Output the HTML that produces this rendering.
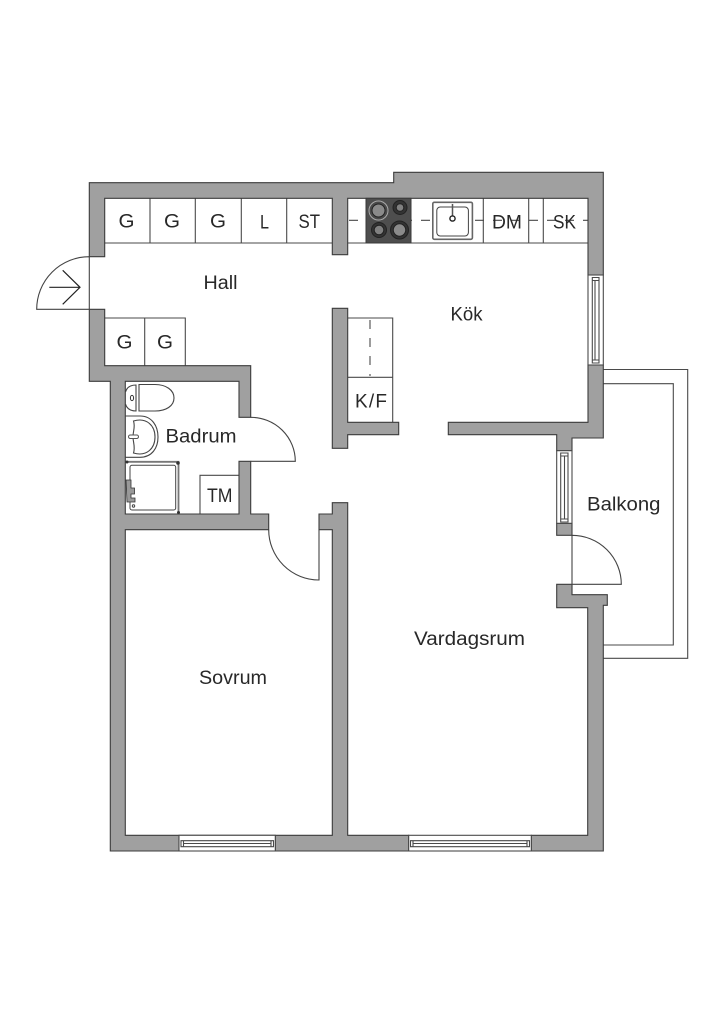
<!DOCTYPE html>
<html><head><meta charset="utf-8"><style>
html,body{margin:0;padding:0;background:#fff}
svg{display:block}
text{font-family:"Liberation Sans",sans-serif;font-size:19px;fill:#282828}
.w{fill:#a0a0a0;stroke:#3c3c3c;stroke-width:1.1}
.l{fill:none;stroke:#4a4a4a;stroke-width:1.1}
.b{fill:#fff;stroke:#4a4a4a;stroke-width:1.1}
.d{fill:none;stroke:#444;stroke-width:1.1}
</style></head><body>
<svg width="724" height="1024" viewBox="0 0 724 1024" xmlns="http://www.w3.org/2000/svg">
<rect width="724" height="1024" fill="#fff"/>
<!-- balcony -->
<path class="l" d="M603.3 369.5H687.7V658.3H603.3M603.3 383.7H673.3V645H603.3"/>
<!-- cabinets -->
<path class="l" d="M104.7 243H332.3M150 198.3V243M195.3 198.3V243M241.3 198.3V243M286.7 198.3V243"/>
<path class="l" d="M347.7 243H588M483.3 198.3V243M528.7 198.3V243M543.3 198.3V243"/>
<path class="l" d="M104.7 318H185.3V365.7M144.7 318V365.7"/>
<path class="l" d="M347.7 318H392.7V422.3M347.7 377.3H392.7"/>
<path class="l" d="M370 320V376" stroke-dasharray="9 9"/>
<path class="l" d="M349 220.3H588" stroke-dasharray="9 9"/>
<path class="l" d="M200 514V475.3H239"/>
<!-- walls -->
<path class="w" d="M89.3 256.7V182.7H393.7V172.3H603.3V275H588V198.3H347.7V254.7H332.3V198.3H104.7V256.7Z"/>
<path class="w" d="M89.3 309.3H104.7V365.7H250.7V417.3H239V381.3H125.3V514H239V461.3H250.7V514H268.7V529.7H125.3V835.3H332.3V529.7H319V514H332.3V502.7H347.7V835.3H408.7V851H275.3V835.3H179V851H110.3V381.3H89.3Z"/>
<path class="w" d="M531.3 835.3H587.7V607.7H556.7V584.3H572V594.7H607.3V605.3H603.3V851H531.3Z"/>
<path class="w" d="M332.3 308.3H347.7V422.3H398.7V434.7H347.7V448.3H332.3Z"/>
<path class="w" d="M588 365H603.3V438H572V450.7H556.7V434.7H448.3V422.3H588Z"/>
<rect class="w" x="556.7" y="523.3" width="15.3" height="12"/>
<!-- windows -->
<rect class="b" x="588" y="275" width="15.3" height="90"/>
<path class="l" d="M592.3 277.5H599V363H592.3ZM592.3 280.5H599M592.3 360H599M595 280.5V360"/>
<rect class="b" x="556.7" y="450.7" width="15.3" height="72.6"/>
<path class="l" d="M560.7 453H568V522H560.7ZM560.7 456H568M560.7 519H568M564.5 456V519"/>
<rect class="b" x="179" y="835.3" width="96.3" height="15.7"/>
<path class="l" d="M181 840.7H273.5V846.7H181ZM183.5 840.7V846.7M271 840.7V846.7M183.5 843.5H271"/>
<rect class="b" x="408.7" y="835.3" width="122.6" height="15.7"/>
<path class="l" d="M410.5 840.7H529.5V846.7H410.5ZM413 840.7V846.7M527 840.7V846.7M413 843.5H527"/>
<!-- doors -->
<path class="d" d="M89.3 256.7A52.6 52.6 0 0 0 36.7 309.3H89.3Z"/>
<path d="M49.3 287.3H80M62.7 270.3L80 287.3L62.7 304.3" fill="none" stroke="#222" stroke-width="1.2"/>
<path class="d" d="M250.7 417.3A44.6 44 0 0 1 295.3 461.3H250.7"/>
<path class="d" d="M268.7 529.7A50.3 50.3 0 0 0 319 580V529.7"/>
<path class="d" d="M572 535.3A49.3 49 0 0 1 621.3 584.3H572M572 535.3V594.7"/>
<!-- stove -->
<rect x="366" y="198.3" width="45" height="44.7" fill="#4e4e4e" stroke="#3a3a3a"/>
<g stroke="#222" fill="#7d7d7d">
<circle cx="378.5" cy="210.5" r="9.5" fill="#4a4a4a" stroke="#aaa"/><circle cx="378.5" cy="210.5" r="6.5" fill="#8a8a8a"/>
<circle cx="400" cy="207.5" r="7" fill="#333"/><circle cx="400" cy="207.5" r="3.8" fill="#808080"/>
<circle cx="379" cy="230" r="7.5" fill="#333"/><circle cx="379" cy="230" r="4.8" fill="#808080"/>
<circle cx="399.5" cy="230" r="9" fill="#333"/><circle cx="399.5" cy="230" r="6.2" fill="#8a8a8a"/>
</g>
<!-- sink -->
<rect x="432.8" y="202.3" width="39.6" height="37" rx="1.5" fill="#fff" stroke="#666" stroke-width="1.6"/>
<rect x="436.8" y="207" width="31.6" height="29" rx="3.5" fill="#fff" stroke="#444"/>
<path d="M452.5 204V217" stroke="#555" stroke-width="1.5"/>
<circle cx="452.5" cy="218.5" r="2.6" fill="#fff" stroke="#222" stroke-width="1.4"/>
<!-- toilet -->
<path class="d" d="M125.5 392Q127.5 385 136 385V411Q127.500 411 125.500 404"/>
<path class="d" d="M139 384.5H155C166 384.5 174 390 174 398C174 406 166 411 155 411H139Z"/>
<ellipse cx="132" cy="398" rx="1.6" ry="2.6" fill="none" stroke="#333"/>
<!-- basin -->
<path class="d" d="M125.3 416H140C152 416 158 426 158 437C158 448 152 457.3 140 457.3H125.3"/>
<path class="d" d="M133.5 421C147 417 155 426 155 437C155 448 147 457 133.5 453C135.5 447 133 442 133 437C133 431 135.500 427 133.500 421Z"/>
<rect x="128.500" y="435" width="10" height="3.500" rx="1.700" fill="#fff" stroke="#555"/>
<!-- shower -->
<path d="M126 461.800H178.500V514" fill="none" stroke="#777" stroke-width="1.800"/>
<rect x="130" y="465.300" width="45.700" height="44.700" rx="2" fill="#fff" stroke="#444"/>
<circle cx="127" cy="462" r="1.500" fill="#333"/><circle cx="178" cy="463" r="1.800" fill="#333"/><circle cx="178.500" cy="512.500" r="1.500" fill="#333"/>
<circle cx="133.500" cy="506" r="1.200" fill="#fff" stroke="#444"/>
<path d="M126 480H131V488H134.500V494H131V498H135V502H127Z" fill="#999" stroke="#333" stroke-width=".8"/>
<!-- labels -->
<text x="118.500" y="227.500" textLength="16" lengthAdjust="spacingAndGlyphs">G</text>
<text x="164" y="227.500" textLength="16" lengthAdjust="spacingAndGlyphs">G</text>
<text x="210" y="227.500" textLength="16" lengthAdjust="spacingAndGlyphs">G</text>
<text x="260" y="228.500" textLength="9" lengthAdjust="spacingAndGlyphs">L</text>
<text x="298.500" y="228" textLength="21.500" lengthAdjust="spacingAndGlyphs">ST</text>
<text x="116.500" y="348.500" textLength="16" lengthAdjust="spacingAndGlyphs">G</text>
<text x="157" y="348.500" textLength="16" lengthAdjust="spacingAndGlyphs">G</text>
<text x="203.500" y="289" textLength="34" lengthAdjust="spacingAndGlyphs">Hall</text>
<text x="450.500" y="320.500" textLength="32" lengthAdjust="spacingAndGlyphs">Kök</text>
<text x="492" y="228.500" textLength="30" lengthAdjust="spacingAndGlyphs">DM</text>
<text x="553" y="228.500" textLength="23" lengthAdjust="spacingAndGlyphs">SK</text>
<text x="355" y="407.500" textLength="32" lengthAdjust="spacing">K/F</text>
<text x="165.500" y="442.500" textLength="71" lengthAdjust="spacingAndGlyphs">Badrum</text>
<text x="207" y="502" textLength="25.500" lengthAdjust="spacingAndGlyphs">TM</text>
<text x="587" y="510.500" textLength="73.500" lengthAdjust="spacingAndGlyphs">Balkong</text>
<text x="414" y="645" textLength="111" lengthAdjust="spacingAndGlyphs">Vardagsrum</text>
<text x="199" y="684" textLength="68" lengthAdjust="spacingAndGlyphs">Sovrum</text>
</svg>
</body></html>
